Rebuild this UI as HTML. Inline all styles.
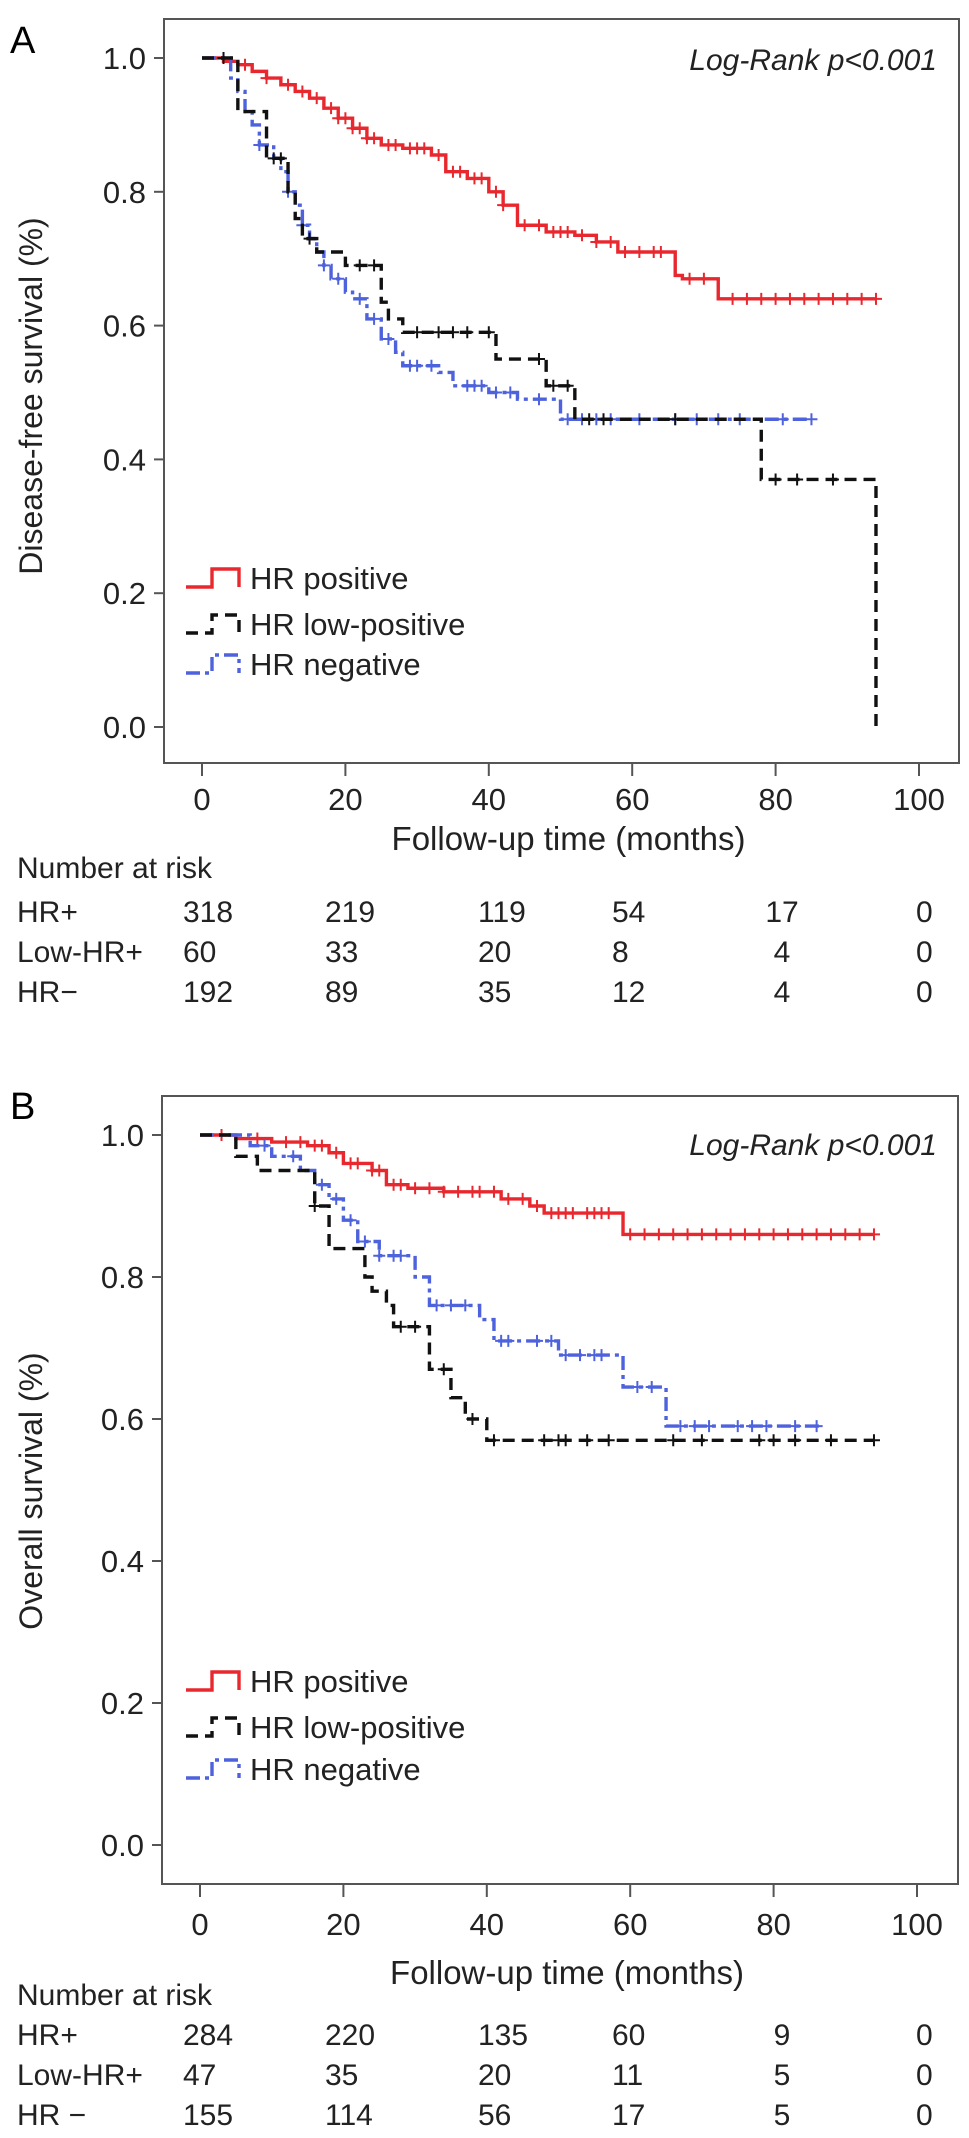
<!DOCTYPE html>
<html><head><meta charset="utf-8"><style>
html,body{margin:0;padding:0;background:#fff;}
svg{display:block;font-family:"Liberation Sans",sans-serif;}
</style></head><body>
<svg id="fig" width="969" height="2138" viewBox="0 0 969 2138" xmlns="http://www.w3.org/2000/svg"></svg>
<script>
// ---------- data ----------
const xTicks=[0,20,40,60,80,100];
const yTicks=[0.0,0.2,0.4,0.6,0.8,1.0];
const riskCols=[0,20,40,60,80,100];
const riskGroupsA=["HR+","Low-HR+","HR\u2212"];
const riskGroupsB=["HR+","Low-HR+","HR \u2212"];
const riskA_pos=[318,219,119,54,17,0];
const riskA_low=[60,33,20,8,4,0];
const riskA_neg=[192,89,35,12,4,0];
const riskB_pos=[284,220,135,60,9,0];
const riskB_low=[47,35,20,11,5,0];
const riskB_neg=[155,114,56,17,5,0];

const A_pos_t=[0,3,5,7,9,11,13,15,17,19,21,23,25,28,32,34,37,40,42,44,48,52,55,58,66,67,72,94];
const A_pos_s=[1,0.995,0.99,0.98,0.97,0.96,0.95,0.94,0.925,0.91,0.895,0.88,0.87,0.865,0.855,0.83,0.82,0.80,0.78,0.75,0.74,0.735,0.725,0.71,0.675,0.67,0.64,0.64];
const A_pos_c=[6,9,12,14,16,18,19,20,21,22,23,24,26,27,29,30,31,33,35,36,38,39,41,42,45,47,49,50,51,53,55,57,59,61,63,64,68,70,74,76,78,80,82,84,86,88,90,92,94];
const A_low_t=[0,5,9,12,13,14,16,20,25,26,28,41,48,52,78,94];
const A_low_s=[1,0.92,0.85,0.80,0.76,0.73,0.71,0.69,0.635,0.61,0.59,0.55,0.51,0.46,0.37,0];
const A_low_c=[3,10,11,15,22,24,30,33,35,37,40,47,49,51,54,56,66,80,83,88];
const A_neg_t=[0,4,5,6,7,8,10,11,12,13,14,15,16,17,18,20,21,23,25,27,28,33,35,40,44,50,85];
const A_neg_s=[1,0.97,0.95,0.92,0.90,0.87,0.85,0.83,0.80,0.78,0.75,0.73,0.71,0.69,0.67,0.65,0.64,0.61,0.58,0.56,0.54,0.53,0.51,0.50,0.49,0.46,0.46];
const A_neg_c=[8,12,14,17,19,22,24,26,29,30,32,37,38,39,41,43,47,51,53,55,57,61,66,69,72,75,81,85];

const B_pos_t=[0,5,10,15,18,20,24,26,29,34,42,46,48,59,94];
const B_pos_s=[1,0.995,0.99,0.985,0.975,0.96,0.95,0.93,0.925,0.92,0.91,0.90,0.89,0.86,0.86];
const B_pos_c=[3,8,12,14,16,17,19,21,22,24,25,27,28,30,32,34,36,38,39,41,43,45,47,49,50,51,52,54,55,56,57,60,62,64,66,68,70,72,74,76,78,80,82,84,86,88,90,92,94];
const B_low_t=[0,5,8,15,16,18,23,24,26,27,32,35,37,40,94];
const B_low_s=[1,0.97,0.95,0.95,0.90,0.84,0.80,0.78,0.76,0.73,0.67,0.63,0.60,0.57,0.57];
const B_low_c=[16,28,30,34,38,41,48,50,51,54,57,66,70,78,80,83,88,94];
const B_neg_t=[0,7,10,14,16,18,20,22,25,30,32,39,41,50,59,65,87];
const B_neg_s=[1,0.985,0.97,0.95,0.93,0.91,0.88,0.85,0.83,0.80,0.76,0.74,0.71,0.69,0.645,0.59,0.59];
const B_neg_c=[9,13,17,19,21,23,25,27,28,33,35,37,42,43,47,49,51,53,55,56,61,63,67,69,71,75,77,79,83,86];

// ---------- drawing ----------
const NS="http://www.w3.org/2000/svg";
const svg=document.getElementById('fig');
function mk(tag,attrs,parent){const e=document.createElementNS(NS,tag);for(const k in attrs)e.setAttribute(k,attrs[k]);(parent||svg).appendChild(e);return e;}
const RED="#e8282e",BLACK="#111",BLUE="#4d62dc";

function panel(P){
  const g=mk('g',{});
  
  
  const xs=v=>P.x0+(P.x100-P.x0)*v/100;
  const ys=v=>P.y0+(P.y1-P.y0)*v;
  let t=mk('text',{x:P.letterX,y:P.letterY,'font-size':38},g);t.textContent=P.letter;
  
  const box=mk('rect',{x:P.bl,y:P.bt,width:P.br-P.bl,height:P.bb-P.bt,fill:'none',stroke:'#555','stroke-width':2},g);
  
  yTicks.forEach(v=>{
    const tk=mk('line',{x1:P.bl-10,x2:P.bl,y1:ys(v),y2:ys(v),stroke:'#555','stroke-width':2},g);
    
    const tl=mk('text',{x:P.bl-18,y:ys(v)+11,'font-size':31,'text-anchor':'end',fill:'#222'},g);
    tl.textContent=v.toFixed(1);
    
  });
  xTicks.forEach(v=>{
    const tk=mk('line',{x1:xs(v),x2:xs(v),y1:P.bb,y2:P.bb+13,stroke:'#555','stroke-width':2},g);
    
    const tl=mk('text',{x:xs(v),y:P.xtY,'font-size':31,'text-anchor':'middle',fill:'#222'},g);
    tl.textContent=v;
    
  });
  t=mk('text',{x:(P.bl+P.br)/2+7,y:P.xlY,'font-size':33,'text-anchor':'middle',fill:'#222'},g);
  t.textContent='Follow-up time (months)';
  
  t=mk('text',{x:0,y:0,'font-size':32,'text-anchor':'middle',fill:'#222',transform:`translate(${P.ylX},${P.ylY}) rotate(-90)`},g);
  t.textContent=P.ytitle;
  
  t=mk('text',{x:937,y:P.lrY,'font-size':30,'font-style':'italic','text-anchor':'end',fill:'#222'},g);
  t.textContent='Log-Rank p<0.001';
  

  function curve(tArr,sArr,cArr,color,dash,nm){
    let d=`M${xs(tArr[0])},${ys(sArr[0])}`;
    for(let i=1;i<tArr.length;i++){d+=` H${xs(tArr[i])} V${ys(sArr[i])}`;}
    const p=mk('path',{d:d,fill:'none',stroke:color,'stroke-width':3.4,'stroke-dasharray':dash},g);
    
    cArr.forEach(c=>{
      let s=sArr[0];for(let i=0;i<tArr.length;i++){if(tArr[i]<=c)s=sArr[i];}
      const cx=xs(c),cy=ys(s);
      const m=mk('path',{d:`M${cx-6},${cy}H${cx+6}M${cx},${cy-6}V${cy+6}`,stroke:color,'stroke-width':2},g);
      
    });
  }
  curve(P.pos[0],P.pos[1],P.pos[2],RED,'none','hr-positive');
  curve(P.neg[0],P.neg[1],P.neg[2],BLUE,'14,5,4,5','hr-negative');
  curve(P.low[0],P.low[1],P.low[2],BLACK,'12,7','hr-low-positive');

  const leg=[["HR positive",RED,'none'],["HR low-positive",BLACK,'12,7'],["HR negative",BLUE,'14,5,4,5']];
  leg.forEach((L,i)=>{
    const y=P.legY[i];
    const lg=mk('g',{},g);
    
    mk('path',{d:`M186,${y+9}H212V${y-9}H239V${y+9}`,fill:'none',stroke:L[1],'stroke-width':3.4,'stroke-dasharray':L[2]},lg);
    const tx=mk('text',{x:250,y:y+11,'font-size':31,fill:'#222'},lg);tx.textContent=L[0];
  });

  t=mk('text',{x:17,y:P.narY,'font-size':30,fill:'#222'},g);t.textContent='Number at risk';
  
  const colX=[183,325,478,612,766,916];
  P.risk.forEach((row,ri)=>{
    const ty=P.rowY[ri];
    let lb=mk('text',{x:17,y:ty,'font-size':30,fill:'#222'},g);lb.textContent=P.groups[ri];
    
    row.forEach((n,ci)=>{
      const anchor=(ci===4)?'middle':'start';
      const xx=(ci===4)?colX[ci]+16:colX[ci];
      const c=mk('text',{x:xx,y:ty,'font-size':30,fill:'#222','text-anchor':anchor},g);c.textContent=n;
      
    });
  });
}

panel({name:'panel-a-disease-free',letter:'A',letterX:10,letterY:53,bl:164,br:959,bt:19,bb:763,
  x0:202,x100:919,y0:727,y1:58,xtY:810,xlY:850,ylX:42,ylY:396,lrY:70,ytitle:'Disease-free survival (%)',
  pos:[A_pos_t,A_pos_s,A_pos_c],low:[A_low_t,A_low_s,A_low_c],neg:[A_neg_t,A_neg_s,A_neg_c],
  legY:[578,624,664],narY:878,groups:riskGroupsA,risk:[riskA_pos,riskA_low,riskA_neg],
  rowY:[922,962,1002]});
panel({name:'panel-b-overall',letter:'B',letterX:10,letterY:1119,bl:162,br:958,bt:1096,bb:1884,
  x0:200,x100:917,y0:1845,y1:1135,xtY:1935,xlY:1984,ylX:42,ylY:1491,lrY:1155,ytitle:'Overall survival (%)',
  pos:[B_pos_t,B_pos_s,B_pos_c],low:[B_low_t,B_low_s,B_low_c],neg:[B_neg_t,B_neg_s,B_neg_c],
  legY:[1681,1727,1769],narY:2005,groups:riskGroupsB,risk:[riskB_pos,riskB_low,riskB_neg],
  rowY:[2045,2085,2125]});
</script>
</body></html>
